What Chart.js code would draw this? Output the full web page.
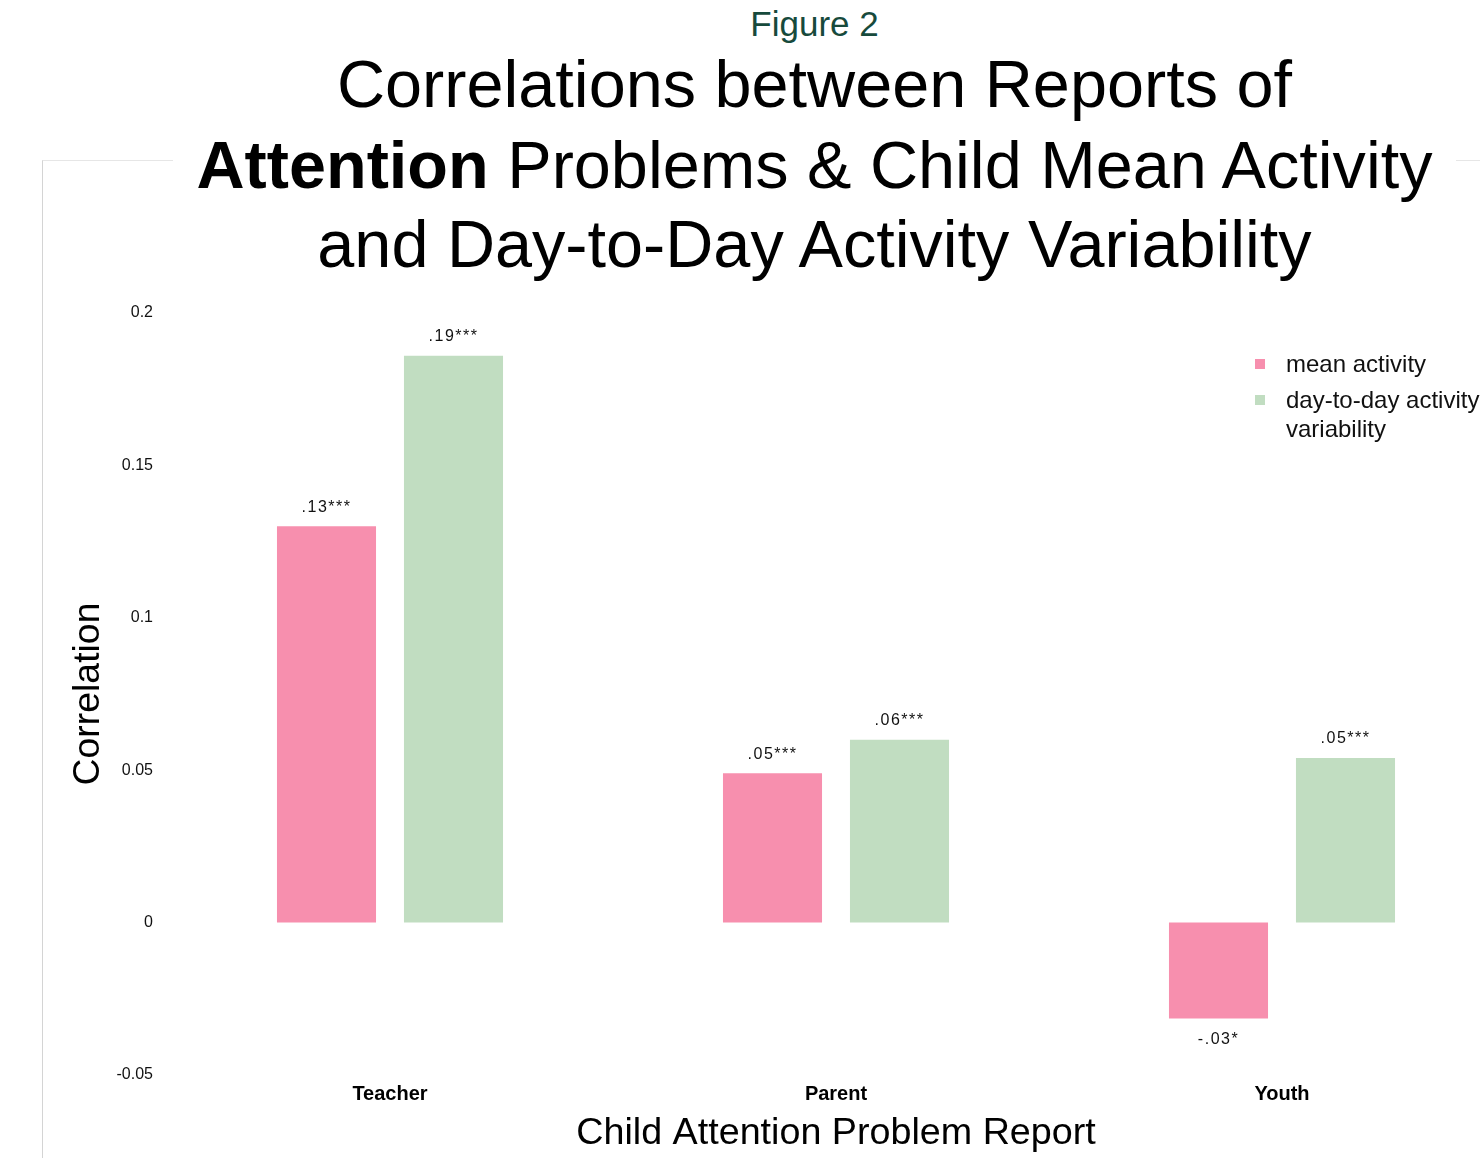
<!DOCTYPE html>
<html>
<head>
<meta charset="utf-8">
<script src="https://cdn.jsdelivr.net/npm/chart.js@4/dist/chart.umd.min.js"></script>
<style>
  html, body { margin: 0; padding: 0; background: #fff; }
  body { width: 1480px; height: 1158px; overflow: hidden; position: relative;
         font-family: "Liberation Sans", Arial, Helvetica, sans-serif; }
  #frame { position: absolute; left: 42px; top: 160px; width: 1500px; height: 1100px;
           border-left: 1px solid #d4d4d4; border-top: 1px solid #e6e6e6; }
  #chartBox { position: absolute; left: 0; top: 0; width: 1540px; height: 1158px; }
  #heading { position: absolute; left: 173px; top: 0; width: 1283px; height: 292px;
             background: #fff; text-align: center; color: #000; }
  #heading .fig { position: absolute; left: 0; right: 0; top: 6px; font-size: 35px;
                  line-height: 35px; color: #174a3c; }
  #heading .line { position: absolute; left: 0; right: 0; font-size: 66.6px; line-height: 66px;
                   white-space: nowrap; }
  #legend { position: absolute; left: 1255px; top: 349px; font-size: 24px; line-height: 29px; color: #111; }
  #legend .item { display: flex; align-items: flex-start; margin-bottom: 7px; }
  #legend .sw { width: 10px; height: 10px; margin-top: 10px; margin-right: 21px; flex: none; }
  #legend .txt { width: 210px; }
</style>
</head>
<body>
<div id="frame"></div>
<div id="chartBox"><canvas id="chart" width="1540" height="1158"></canvas></div>
<div id="heading">
  <div class="fig">Figure 2</div>
  <div class="line" style="top:51px">Correlations between Reports of</div>
  <div class="line" style="top:132px"><b>Attention</b> Problems &amp; Child Mean Activity</div>
  <div class="line" style="top:211px">and Day-to-Day Activity Variability</div>
</div>
<div id="legend"></div>
<script>
// Report sources on the x axis
const categories = ["Teacher", "Parent", "Youth"];
// Correlation with child mean activity
const meanActivity = [0.130, 0.049, -0.0315];
// Correlation with day-to-day activity variability
const variability = [0.186, 0.060, 0.054];
// Significance stars for each bar
const meanStars = ["***", "***", "*"];
const variabilityStars = ["***", "***", "***"];
const seriesNames = ["mean activity", "day-to-day activity variability"];
const yTicks = [-0.05, 0, 0.05, 0.1, 0.15, 0.2];

const PINK = "#f78fae";
const GREEN = "#c1ddc1";
const FONT = '"Liberation Sans", Arial, Helvetica, sans-serif';

function fmtCorr(v) {
  const s = Math.abs(v).toFixed(2).replace(/^0/, "");
  return (v < 0 ? "-" : "") + s;
}

// Value labels above (or below, for negatives) each bar
const barLabels = {
  id: "barLabels",
  afterDatasetsDraw(chart) {
    const ctx = chart.ctx;
    ctx.save();
    ctx.font = "16px " + FONT;
    ctx.fillStyle = "#111";
    ctx.textAlign = "center";
    ctx.textBaseline = "middle";
    if ("letterSpacing" in ctx) ctx.letterSpacing = "1.5px";
    chart.data.datasets.forEach((ds, di) => {
      chart.getDatasetMeta(di).data.forEach((bar, i) => {
        const v = ds.data[i];
        const txt = fmtCorr(v) + ds.stars[i];
        const y = v >= 0 ? bar.y - 19 : bar.y + 21;
        ctx.fillText(txt, bar.x, y);
      });
    });
    ctx.restore();
  }
};

const chart = new Chart(document.getElementById("chart"), {
  type: "bar",
  data: {
    labels: categories,
    datasets: [
      { label: seriesNames[0], data: meanActivity, stars: meanStars, backgroundColor: PINK },
      { label: seriesNames[1], data: variability, stars: variabilityStars, backgroundColor: GREEN }
    ]
  },
  options: {
    responsive: false,
    animation: false,
    devicePixelRatio: 1,
    categoryPercentage: 0.5695,
    barPercentage: 0.78,
    layout: { padding: { left: 66, right: 35, top: 313, bottom: 0 } },
    plugins: { legend: { display: false }, title: { display: false }, tooltip: { enabled: false } },
    scales: {
      x: {
        grid: { display: false, drawTicks: false },
        border: { display: false },
        ticks: { color: "#000", padding: 7, font: { family: FONT, size: 20, weight: "bold" } },
        title: { display: true, text: "Child Attention Problem Report", color: "#000",
                 font: { family: FONT, size: 37.7 }, padding: { top: 0, bottom: 2 } },
        afterFit(scale) { scale.height = 83; }
      },
      y: {
        min: -0.05, max: 0.2,
        grid: { display: false, drawTicks: false },
        border: { display: false },
        afterBuildTicks(scale) { scale.ticks = yTicks.map(v => ({ value: v })); },
        ticks: { color: "#111", padding: 14, font: { family: FONT, size: 16 },
                 callback: v => String(Math.round(v * 100) / 100) },
        title: { display: true, text: "Correlation", color: "#000",
                 font: { family: FONT, size: 37.4 }, padding: { top: 0, bottom: 0 } },
        afterFit(scale) { scale.width = 101; }
      }
    }
  },
  plugins: [barLabels]
});

// HTML legend built from the datasets
const legend = document.getElementById("legend");
chart.data.datasets.forEach(ds => {
  const item = document.createElement("div");
  item.className = "item";
  const sw = document.createElement("span");
  sw.className = "sw";
  sw.style.background = ds.backgroundColor;
  const txt = document.createElement("span");
  txt.className = "txt";
  txt.textContent = ds.label;
  item.appendChild(sw);
  item.appendChild(txt);
  legend.appendChild(item);
});
</script>
</body>
</html>
